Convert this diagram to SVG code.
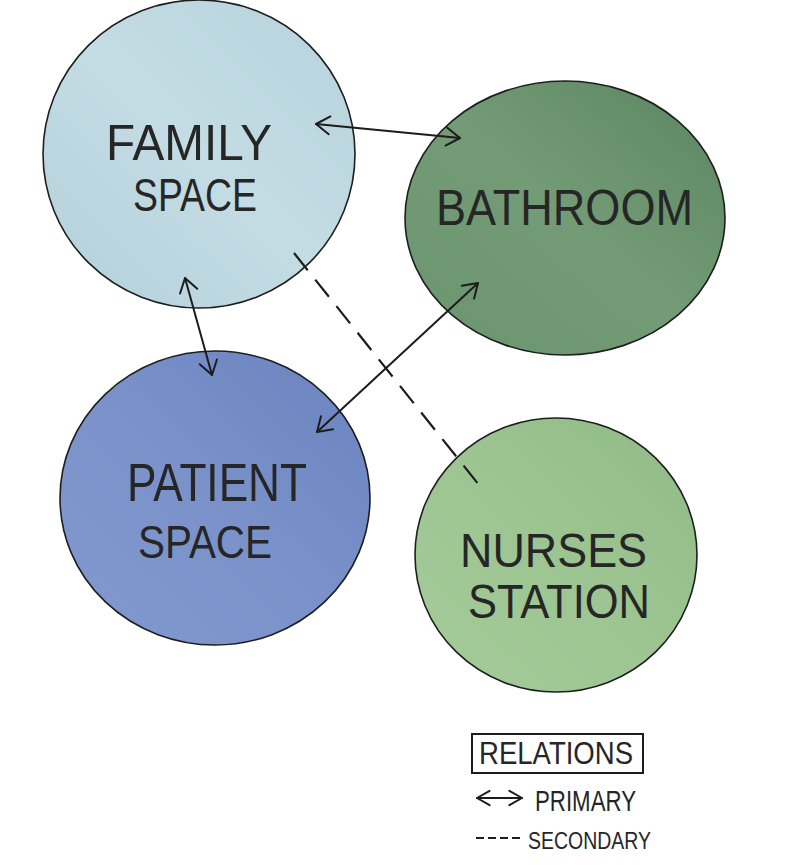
<svg xmlns="http://www.w3.org/2000/svg" width="808" height="865" viewBox="0 0 808 865">
<defs>
<style>
.node{stroke:#1e1e1e;stroke-width:1.6}
.lbl{font-family:"Liberation Sans",Arial,sans-serif;fill:#262626;font-weight:normal}
.rel{fill:none;stroke:#1c1c1c;stroke-width:2;stroke-linecap:round}
.dash{fill:none;stroke:#1c1c1c;stroke-width:2.2;stroke-dasharray:22 12}
</style>
<marker id="arr" viewBox="0 0 20 20" refX="18" refY="10" markerWidth="21" markerHeight="21" markerUnits="userSpaceOnUse" orient="auto-start-reverse">
<path d="M5 1.5 L18 10 L5 18.5" fill="none" stroke="#1c1c1c" stroke-width="1.9" stroke-linecap="round" stroke-linejoin="round"/>
</marker>
<marker id="arrS" viewBox="0 0 20 20" refX="18" refY="10" markerWidth="18" markerHeight="18" markerUnits="userSpaceOnUse" orient="auto-start-reverse">
<path d="M4 2 L18 10 L4 18" fill="none" stroke="#1c1c1c" stroke-width="2.2" stroke-linecap="round" stroke-linejoin="round"/>
</marker>
<linearGradient id="gFam" x1="0" y1="1" x2="1" y2="0">
<stop offset="0" stop-color="#b3d0da"/><stop offset="0.5" stop-color="#c4dce4"/><stop offset="1" stop-color="#b7d3dc"/>
</linearGradient>
<linearGradient id="gBath" x1="0" y1="1" x2="1" y2="0">
<stop offset="0" stop-color="#6b956f"/><stop offset="0.5" stop-color="#739c76"/><stop offset="1" stop-color="#5a8560"/>
</linearGradient>
<linearGradient id="gPat" x1="0" y1="1" x2="1" y2="0">
<stop offset="0" stop-color="#8299cf"/><stop offset="0.5" stop-color="#7a92c9"/><stop offset="1" stop-color="#6a82bf"/>
</linearGradient>
<linearGradient id="gNur" x1="0" y1="1" x2="1" y2="0">
<stop offset="0" stop-color="#a4cb99"/><stop offset="0.5" stop-color="#9dc592"/><stop offset="1" stop-color="#8fba86"/>
</linearGradient>
</defs>
<rect width="808" height="865" fill="#ffffff"/>

<g id="family-space">
<ellipse class="node" cx="199" cy="154" rx="156" ry="154" fill="url(#gFam)"/>
<text class="lbl" x="106" y="160" font-size="50" textLength="166" lengthAdjust="spacingAndGlyphs">FAMILY</text>
<text class="lbl" x="133" y="211" font-size="46" textLength="124" lengthAdjust="spacingAndGlyphs">SPACE</text>
</g>

<g id="bathroom">
<ellipse class="node" cx="565" cy="218" rx="160" ry="137" fill="url(#gBath)"/>
<text class="lbl" x="436" y="225" font-size="50" textLength="257" lengthAdjust="spacingAndGlyphs">BATHROOM</text>
</g>

<g id="patient-space">
<ellipse class="node" cx="215" cy="498" rx="155" ry="147" fill="url(#gPat)"/>
<text class="lbl" x="127" y="501" font-size="54" textLength="180" lengthAdjust="spacingAndGlyphs">PATIENT</text>
<text class="lbl" x="138" y="558" font-size="46" textLength="134" lengthAdjust="spacingAndGlyphs">SPACE</text>
</g>

<g id="nurses-station">
<ellipse class="node" cx="556" cy="555" rx="141" ry="137" fill="url(#gNur)"/>
<text class="lbl" x="460" y="567" font-size="48" textLength="187" lengthAdjust="spacingAndGlyphs">NURSES</text>
<text class="lbl" x="468" y="618" font-size="48" textLength="182" lengthAdjust="spacingAndGlyphs">STATION</text>
</g>

<g id="connectors">
<line class="rel" x1="316" y1="124" x2="460" y2="138" marker-start="url(#arr)" marker-end="url(#arr)"/>
<line class="rel" x1="185" y1="278" x2="212" y2="375" marker-start="url(#arr)" marker-end="url(#arr)"/>
<line class="rel" x1="478" y1="283" x2="317" y2="432" marker-start="url(#arr)" marker-end="url(#arr)"/>
<line class="dash" x1="294" y1="253" x2="483" y2="490"/>
</g>

<g id="legend">
<rect x="472" y="734" width="171" height="39" fill="none" stroke="#1c1c1c" stroke-width="2"/>
<text class="lbl" x="479" y="764" font-size="31" textLength="154" lengthAdjust="spacingAndGlyphs">RELATIONS</text>
<line class="rel" x1="477" y1="798" x2="522" y2="798" marker-start="url(#arrS)" marker-end="url(#arrS)"/>
<text class="lbl" x="535" y="811" font-size="29" textLength="101" lengthAdjust="spacingAndGlyphs">PRIMARY</text>
<line x1="476" y1="838" x2="521" y2="838" stroke="#1c1c1c" stroke-width="2" stroke-dasharray="8 4"/>
<text class="lbl" x="528" y="849" font-size="23" textLength="123" lengthAdjust="spacingAndGlyphs">SECONDARY</text>
</g>
</svg>
